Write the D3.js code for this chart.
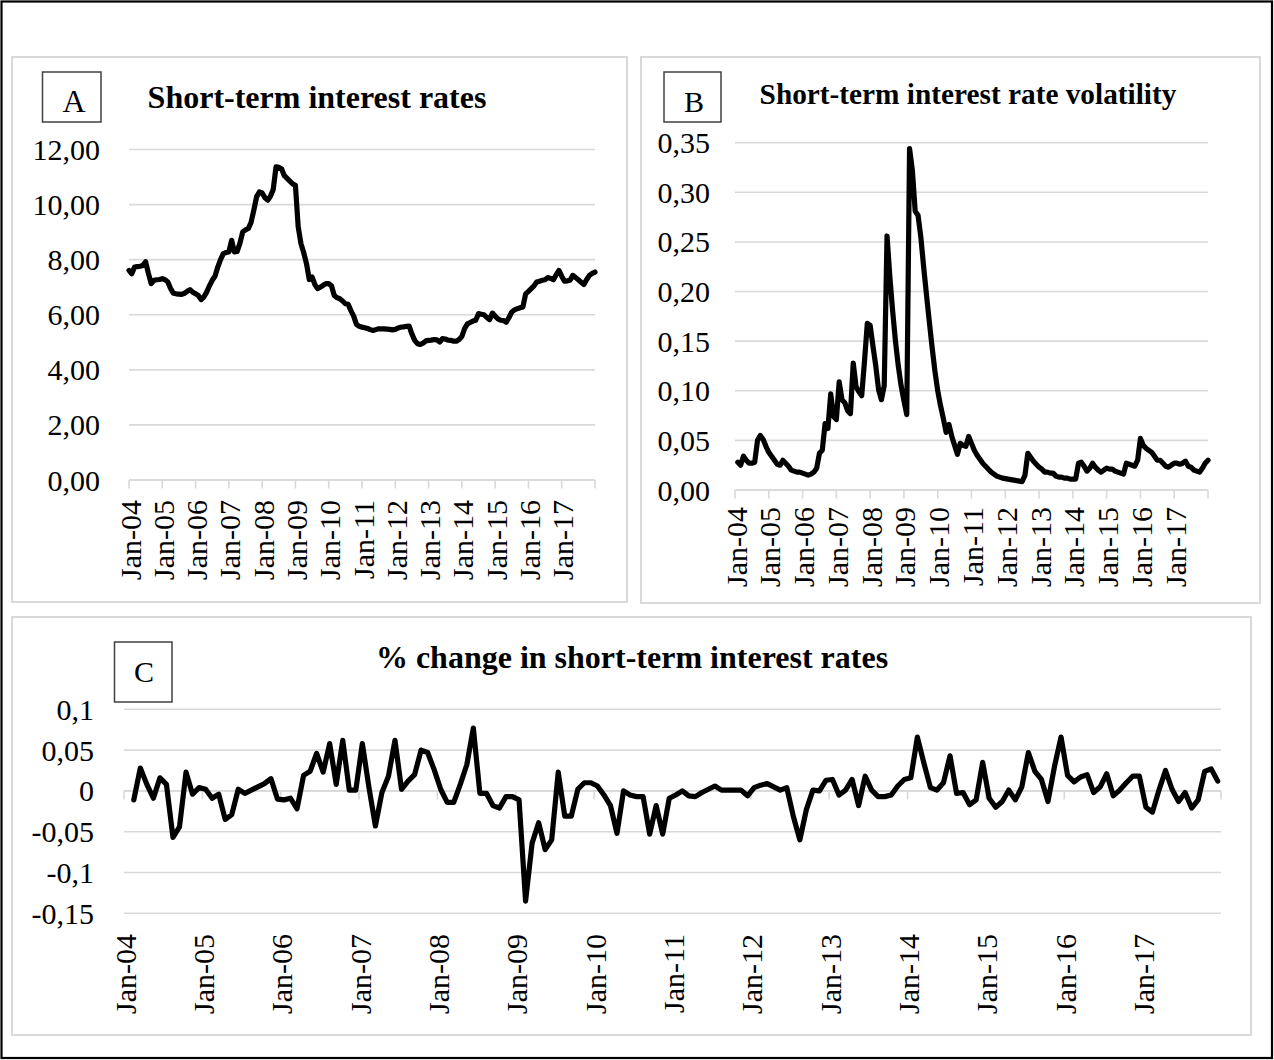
<!DOCTYPE html>
<html><head><meta charset="utf-8">
<script src="https://cdn.jsdelivr.net/npm/d3@7"></script>
<style>
html,body{margin:0;padding:0;background:#fff;}
svg{display:block;font-family:"Liberation Serif","Times New Roman",serif;}
</style></head><body>
<svg id="chart" width="1274" height="1060"></svg>
<script>
// ---------- data ----------
const xTickLabels = ["Jan-04","Jan-05","Jan-06","Jan-07","Jan-08","Jan-09","Jan-10",
  "Jan-11","Jan-12","Jan-13","Jan-14","Jan-15","Jan-16","Jan-17"];

// Short-term interest rates, monthly Jan-04 .. Jan-18
const rateValues = [
7.61,7.49,7.73,7.75,7.76,7.79,7.92,7.50,7.13,7.25,
7.27,7.28,7.31,7.27,7.19,6.95,6.78,6.76,6.75,6.74,
6.78,6.85,6.91,6.82,6.76,6.70,6.55,6.65,6.82,7.05,
7.25,7.40,7.73,8.00,8.22,8.26,8.28,8.70,8.28,8.30,
8.60,9.01,9.08,9.13,9.35,9.80,10.28,10.46,10.42,10.25,
10.16,10.30,10.55,11.37,11.35,11.30,11.05,10.95,10.85,10.75,
10.70,9.19,8.58,8.25,7.85,7.28,7.37,7.10,6.95,7.00,
7.07,7.13,7.13,7.05,6.70,6.62,6.58,6.50,6.40,6.38,
6.15,5.95,5.65,5.58,5.55,5.53,5.50,5.46,5.43,5.46,
5.49,5.49,5.49,5.48,5.47,5.45,5.47,5.52,5.55,5.56,
5.58,5.59,5.30,5.07,4.95,4.92,4.97,5.05,5.07,5.08,
5.10,5.09,5.01,5.13,5.12,5.08,5.07,5.04,5.04,5.10,
5.21,5.50,5.67,5.72,5.77,5.80,6.04,6.02,6.00,5.90,
5.82,6.06,5.95,5.85,5.80,5.79,5.73,5.90,6.10,6.18,
6.22,6.25,6.28,6.76,6.85,6.95,7.05,7.19,7.22,7.25,
7.27,7.35,7.32,7.27,7.45,7.61,7.40,7.22,7.23,7.25,
7.43,7.35,7.27,7.18,7.10,7.28,7.43,7.50,7.55];

// Short-term interest rate volatility, monthly Feb-04 .. Jan-18
const volatilityValues = [
0.028,0.025,0.034,0.030,0.027,0.027,0.028,0.050,0.055,0.051,
0.044,0.038,0.034,0.030,0.026,0.025,0.030,0.027,0.024,0.020,
0.019,0.018,0.018,0.017,0.016,0.015,0.016,0.018,0.022,0.037,
0.040,0.067,0.062,0.097,0.074,0.071,0.109,0.091,0.088,0.080,
0.077,0.128,0.104,0.099,0.095,0.130,0.168,0.166,0.145,0.125,
0.101,0.091,0.105,0.256,0.215,0.180,0.150,0.125,0.105,0.090,
0.076,0.344,0.322,0.281,0.277,0.255,0.225,0.197,0.170,0.144,
0.120,0.100,0.085,0.072,0.058,0.066,0.054,0.045,0.036,0.047,
0.045,0.044,0.054,0.047,0.040,0.035,0.031,0.027,0.024,0.021,
0.018,0.016,0.014,0.013,0.012,0.0115,0.011,0.0105,0.010,0.0095,
0.009,0.0085,0.015,0.037,0.033,0.029,0.026,0.023,0.021,0.018,
0.018,0.017,0.017,0.014,0.013,0.013,0.012,0.012,0.011,0.011,
0.011,0.027,0.028,0.024,0.019,0.022,0.027,0.023,0.020,0.018,
0.020,0.022,0.021,0.021,0.019,0.018,0.017,0.016,0.027,0.026,
0.025,0.024,0.030,0.052,0.045,0.042,0.040,0.038,0.034,0.030,
0.030,0.027,0.024,0.023,0.025,0.027,0.027,0.026,0.027,0.029,
0.024,0.023,0.020,0.019,0.018,0.022,0.027,0.030];

// % change in short-term interest rates
const changeValues = [
-0.011,0.028,0.008,-0.009,0.016,0.008,-0.057,-0.044,0.023,-0.004,
0.004,0.002,-0.009,-0.004,-0.035,-0.029,0.002,-0.003,0.001,0.005,
0.009,0.015,-0.010,-0.011,-0.009,-0.022,0.019,0.024,0.046,0.023,
0.058,0.008,0.062,0.001,0.001,0.058,0.005,-0.043,-0.002,0.018,
0.062,0.002,0.012,0.020,0.050,0.047,0.026,0.002,-0.014,-0.014,
0.008,0.032,0.077,-0.003,-0.003,-0.018,-0.021,-0.007,-0.007,-0.011,
-0.135,-0.064,-0.039,-0.072,-0.060,0.023,-0.031,-0.031,0.002,0.010,
0.010,0.006,-0.005,-0.018,-0.052,0.000,-0.005,-0.007,-0.007,-0.053,
-0.018,-0.053,-0.009,-0.005,
0.000,-0.006,-0.007,-0.002,0.002,0.006,0.001,0.001,0.001,0.001,
-0.006,0.004,0.007,0.009,0.005,0.001,0.004,-0.031,-0.060,-0.023,
0.001,0.000,0.013,0.014,-0.005,0.001,0.014,-0.018,0.018,0.001,
-0.007,-0.007,-0.005,0.006,0.014,0.016,0.066,0.034,0.004,0.001,
0.010,0.043,
-0.003,-0.002,-0.017,-0.011,0.035,-0.009,-0.020,-0.013,0.001,-0.011,
0.005,0.047,0.024,0.014,-0.013,0.030,0.066,0.019,0.011,0.017,
0.020,-0.002,0.005,0.021,-0.006,0.001,0.010,0.018,0.018,-0.020,
-0.026,0.001,0.025,0.002,-0.013,-0.002,-0.021,-0.011,0.024,0.027,
0.012];

const rateTicks = [0,2,4,6,8,10,12];
const volTicks = [0,0.05,0.10,0.15,0.20,0.25,0.30,0.35];
const changeTicks = [0.1,0.05,0,-0.05,-0.1,-0.15];
const changeTickLabels = ["0,1","0,05","0","-0,05","-0,1","-0,15"];
const titles = ["Short-term interest rates","Short-term interest rate volatility","% change in short-term interest rates"];
const letters = ["A","B","C"];
// month offsets (months after Jan-04) of each series' first observation
const rateStart = 0, volStart = 1, changeStart = 1.5;
const totalMonths = 168;

// ---------- drawing ----------
const svg = d3.select("#chart");
const GRID = "#d9d9d9";
const comma = f => v => d3.format(f)(v).replace(".", ",");

svg.append("rect").attr("x",1.5).attr("y",1.5).attr("width",1270.5).attr("height",1056.5)
  .attr("fill","none").attr("stroke","#000").attr("stroke-width",2.2);

function drawPanel(c){
  const g = svg.append("g");
  g.append("rect").attr("x",c.frame[0]).attr("y",c.frame[1]).attr("width",c.frame[2]).attr("height",c.frame[3])
    .attr("fill","#fff").attr("stroke",GRID).attr("stroke-width",2);
  const x = d3.scaleLinear().domain([0,totalMonths]).range([c.left,c.right]);
  const y = d3.scaleLinear().domain(c.yDomain).range([c.bottom,c.top]);
  g.selectAll(".grid").data(c.yTicks).join("line")
    .attr("x1",c.left).attr("x2",c.right).attr("y1",d=>y(d)).attr("y2",d=>y(d))
    .attr("stroke",GRID).attr("stroke-width",1.6);
  g.selectAll(".ylab").data(c.yTicks).join("text")
    .attr("x",c.yLabelX).attr("y",d=>y(d)).attr("dy","0.35em").attr("text-anchor","end")
    .attr("font-size",30).attr("fill","#000").text((d,i)=>c.yFormat(d,i));
  const axisY = y(0);
  g.append("line").attr("x1",c.left).attr("x2",c.right).attr("y1",axisY).attr("y2",axisY)
    .attr("stroke",GRID).attr("stroke-width",1.6);
  const tickMonths = d3.range(0,totalMonths+1,12);
  g.selectAll(".tick").data(tickMonths).join("line")
    .attr("x1",d=>x(d)).attr("x2",d=>x(d)).attr("y1",axisY).attr("y2",axisY+8.5)
    .attr("stroke",GRID).attr("stroke-width",1.6);
  g.selectAll(".xlab").data(xTickLabels).join("text")
    .attr("transform",(d,i)=>`translate(${x(i*12)},${c.xLabelTop}) rotate(-90)`)
    .attr("dy",11.5).attr("text-anchor","end").attr("font-size",30).attr("fill","#000").text(d=>d);
  const line = d3.line().x(d=>x(d.m)).y(d=>y(d.v)).curve(d3.curveLinear);
  const pts = c.values.map((v,i)=>({m:c.start+i, v}));
  g.append("path").datum(pts).attr("d",line).attr("fill","none").attr("stroke","#000")
    .attr("stroke-width",5.2).attr("stroke-linejoin","round").attr("stroke-linecap","round");
  g.append("text").attr("x",c.titleX).attr("y",c.titleY).attr("text-anchor","middle")
    .attr("font-weight","bold").attr("font-size",c.titleSize).text(c.title);
  g.append("rect").attr("x",c.box[0]).attr("y",c.box[1]).attr("width",c.box[2]).attr("height",c.box[3])
    .attr("fill","#fff").attr("stroke","#404040").attr("stroke-width",1.5);
  g.append("text").attr("x",c.letterX).attr("y",c.letterY).attr("text-anchor","middle")
    .attr("font-size",c.letterSize).text(c.letter);
}

drawPanel({frame:[12,57,615,545], left:129, right:595, top:149.5, bottom:480,
  yDomain:[0,12], yTicks:rateTicks, yFormat:comma(".2f"), yLabelX:100, xLabelTop:500,
  values:rateValues, start:rateStart,
  title:titles[0], titleX:317, titleY:108, titleSize:32,
  box:[42.5,72,58.5,50], letter:letters[0], letterX:74, letterY:111.5, letterSize:32});

drawPanel({frame:[641,57,619,546], left:735, right:1208, top:142.7, bottom:490,
  yDomain:[0,0.35], yTicks:volTicks, yFormat:comma(".2f"), yLabelX:710, xLabelTop:507,
  values:volatilityValues, start:volStart,
  title:titles[1], titleX:968, titleY:104, titleSize:29.3,
  box:[664,72,57,50], letter:letters[1], letterX:694, letterY:111.5, letterSize:30});

drawPanel({frame:[12,617,1239,418], left:124, right:1221, top:709.3, bottom:913.3,
  yDomain:[-0.15,0.1], yTicks:changeTicks, yFormat:(d,i)=>changeTickLabels[i], yLabelX:94, xLabelTop:934,
  values:changeValues, start:changeStart,
  title:titles[2], titleX:632, titleY:668, titleSize:32,
  box:[114.5,642,57.5,60], letter:letters[2], letterX:144, letterY:681.5, letterSize:30});
</script>
</body></html>
